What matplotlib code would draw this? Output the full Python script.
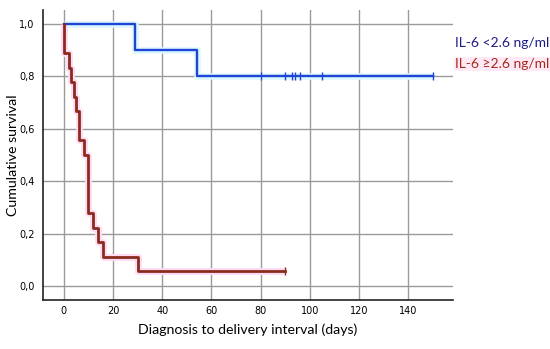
import matplotlib

matplotlib.use("Agg")
import matplotlib.pyplot as plt
import numpy as np

# Kaplan-Meier estimates
low_event_days = [29, 54]
low_survival = [0.9, 0.8]
low_censor_days = [80, 90, 93, 94, 96, 105, 150]

high_event_days = [0, 2, 3, 4, 5, 6, 8, 10, 12, 14, 16, 30]
high_survival = [0.889, 0.833, 0.778, 0.722, 0.667, 0.556, 0.500,
                 0.278, 0.222, 0.167, 0.111, 0.056]
high_censor_days = [90]

group_labels = ["IL-6 <2.6 ng/ml", "IL-6 \u22652.6 ng/ml"]
x_ticks = [0, 20, 40, 60, 80, 100, 120, 140]
y_ticks = [0.0, 0.2, 0.4, 0.6, 0.8, 1.0]


def km_steps(events, surv, censors):
    xs = [0] + list(events) + [max(censors)]
    ys = [1.0] + list(surv) + [surv[-1]]
    return np.array(xs), np.array(ys)


def surv_at(t, events, surv):
    s = 1.0
    for e, v in zip(events, surv):
        if e <= t:
            s = v
    return s


fig = plt.figure(figsize=(5.5, 3.49), dpi=100)
ax = fig.add_axes([43 / 550, 49 / 349, 410 / 550, 290 / 349])

ax.set_xlim(-8.5, 158.3)
ax.set_ylim(-0.053, 1.053)
ax.set_xticks(x_ticks)
ax.set_yticks(y_ticks)
ax.set_yticklabels([f"{v:.1f}".replace(".", ",") for v in y_ticks])
ax.grid(True, color="#9a9a9a", linewidth=1.0)
ax.set_axisbelow(True)
ax.tick_params(length=0, labelsize=7)
ax.tick_params(axis="x", pad=4)
ax.tick_params(axis="y", pad=6)
for side in ("top", "right"):
    ax.spines[side].set_visible(False)
for side in ("left", "bottom"):
    ax.spines[side].set_color("#222222")
    ax.spines[side].set_linewidth(1.2)

groups = [
    (low_event_days, low_survival, low_censor_days, "#1f45d6", "#dcf7ff", 1.7),
    (high_event_days, high_survival, high_censor_days, "#8a2b1c", "#ffdcf3", 2.0),
]
for events, surv, censors, color, halo, lw in groups:
    xs, ys = km_steps(events, surv, censors)
    ax.step(xs, ys, where="post", color=halo, linewidth=lw + 3, zorder=2,
            solid_capstyle="butt")
    ax.step(xs, ys, where="post", color=color, linewidth=lw, zorder=3)
    cy = [surv_at(c, events, surv) for c in censors]
    ax.plot(censors, cy, linestyle="none", marker="|", markersize=6,
            markeredgewidth=1.0, color=color, zorder=4)

ax.set_xlabel("Diagnosis to delivery interval (days)", family="Lato",
              fontsize=10.2)
ax.xaxis.set_label_coords(0.5, -0.08)
ax.set_ylabel("Cumulative survival", family="Lato", fontsize=10.2)
ax.yaxis.set_label_coords(-0.058, 0.5)

fig.text(455 / 550, 1 - 43 / 349, group_labels[0], color="#1c1c8a",
         family="Lato", fontsize=10, va="center", ha="left")
fig.text(455 / 550, 1 - 64 / 349, group_labels[1], color="#a8281c",
         family="Lato", fontsize=10, va="center", ha="left",
         bbox=dict(facecolor="#ffe9f4", edgecolor="none", pad=0.5))

fig.savefig("out.png", dpi=100, facecolor="white")
